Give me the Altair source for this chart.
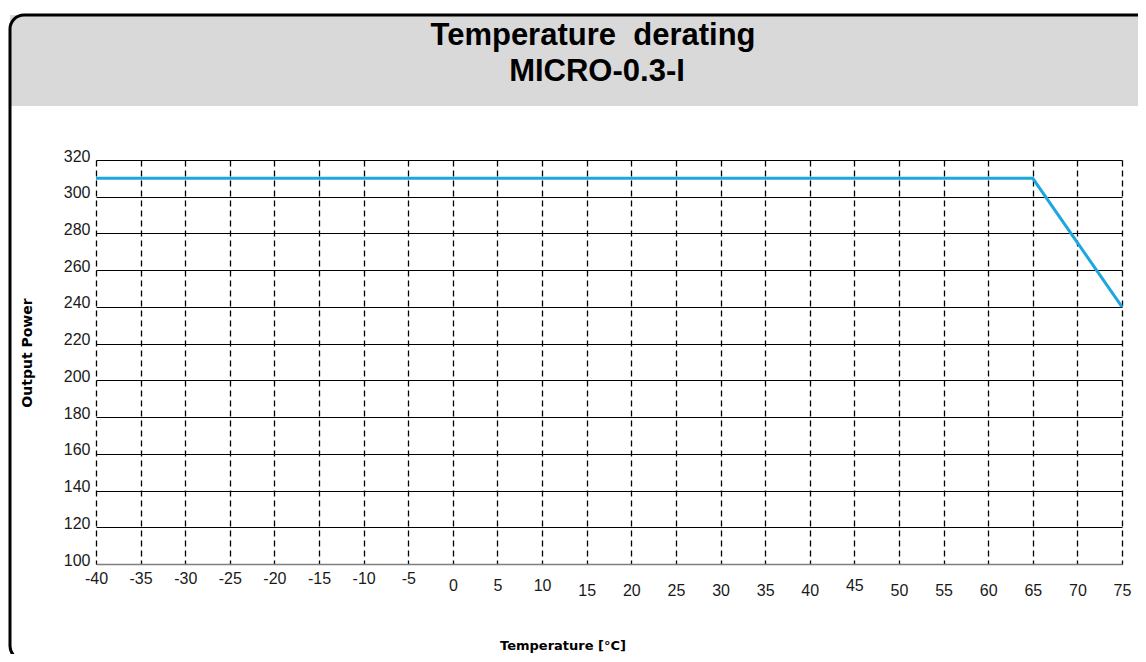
import altair as alt
import pandas as pd

# Data
temps = [-40, 65, 75]
power = [310, 310, 240]
x_ticks = list(range(-40, 80, 5))
y_ticks = list(range(100, 340, 20))
title_lines = ["Temperature\u00a0\u00a0derating", "MICRO-0.3-I"]
x_title = "Temperature [°C]"
y_title = "Output Power"

df = pd.DataFrame({"temp": temps, "power": power})
one = pd.DataFrame({"k": [0]})

x_scale = alt.Scale(domain=[-40, 75], nice=False, zero=False)
y_scale = alt.Scale(domain=[100, 320], nice=False, zero=False)

band = alt.Chart(one).mark_rect(fill="#d9d9d9").encode(
    x=alt.value(-86), x2=alt.value(1060), y=alt.value(-145), y2=alt.value(-54)
)
frame = alt.Chart(one).mark_rect(
    filled=False, stroke="black", strokeWidth=3, cornerRadius=14
).encode(x=alt.value(-86), x2=alt.value(1060), y=alt.value(-145), y2=alt.value(500))

title1 = alt.Chart(one).mark_text(
    font="Liberation Sans", fontWeight="bold", fontSize=31, color="black",
    align="center", baseline="alphabetic"
).encode(x=alt.value(497), y=alt.value(-115), text=alt.value(title_lines[0]))
title2 = alt.Chart(one).mark_text(
    font="Liberation Sans", fontWeight="bold", fontSize=31, color="black",
    align="center", baseline="alphabetic"
).encode(x=alt.value(501), y=alt.value(-79), text=alt.value(title_lines[1]))

ytitle = alt.Chart(one).mark_text(
    font="DejaVu Sans", fontWeight="bold", fontSize=14, color="black",
    align="center", baseline="alphabetic", angle=270
).encode(x=alt.value(-64), y=alt.value(193), text=alt.value(y_title))
xtitle = alt.Chart(one).mark_text(
    font="DejaVu Sans", fontWeight="bold", fontSize=13, color="black",
    align="center", baseline="alphabetic"
).encode(x=alt.value(467), y=alt.value(490), text=alt.value(x_title))

line = alt.Chart(df).mark_line(color="#1ea6e0", strokeWidth=3).encode(
    x=alt.X(
        "temp:Q", scale=x_scale,
        axis=alt.Axis(
            values=x_ticks, title=None, grid=True, gridDash=[6, 4],
            gridColor="black", gridWidth=1.3, gridOpacity=1, ticks=False,
            domainColor="#7f7f7f", domainWidth=1.5,
            labelFont="Liberation Sans", labelFontSize=16, labelColor="#1a1a1a",
            labelAngle=0, labelFlush=False, labelOverlap=False,
            labelExpr="'' + datum.value",
            labelPadding={
                "condition": [
                    {"test": "datum.value < 0", "value": 6},
                    {"test": "datum.value <= 10 || datum.value == 45", "value": 13},
                ],
                "value": 18,
            },
        ),
    ),
    y=alt.Y(
        "power:Q", scale=y_scale,
        axis=alt.Axis(
            values=y_ticks, title=None, grid=True, gridColor="black",
            gridWidth=1.2, gridOpacity=1, ticks=False, domain=False,
            labelFont="Liberation Sans", labelFontSize=16, labelColor="#1a1a1a",
            labelPadding=6, labelOffset=-4, labelOverlap=False, labelFlush=False,
        ),
    ),
)

chart = alt.layer(band, frame, title1, title2, ytitle, xtitle, line).properties(
    width=1026,
    height=404,
    padding={"left": 88, "top": 152, "right": 16, "bottom": 90},
    autosize=alt.AutoSizeParams(type="none"),
    background="white",
).configure_view(stroke=None)

chart.save("out.html", embed_options={"renderer": "svg", "actions": False})
